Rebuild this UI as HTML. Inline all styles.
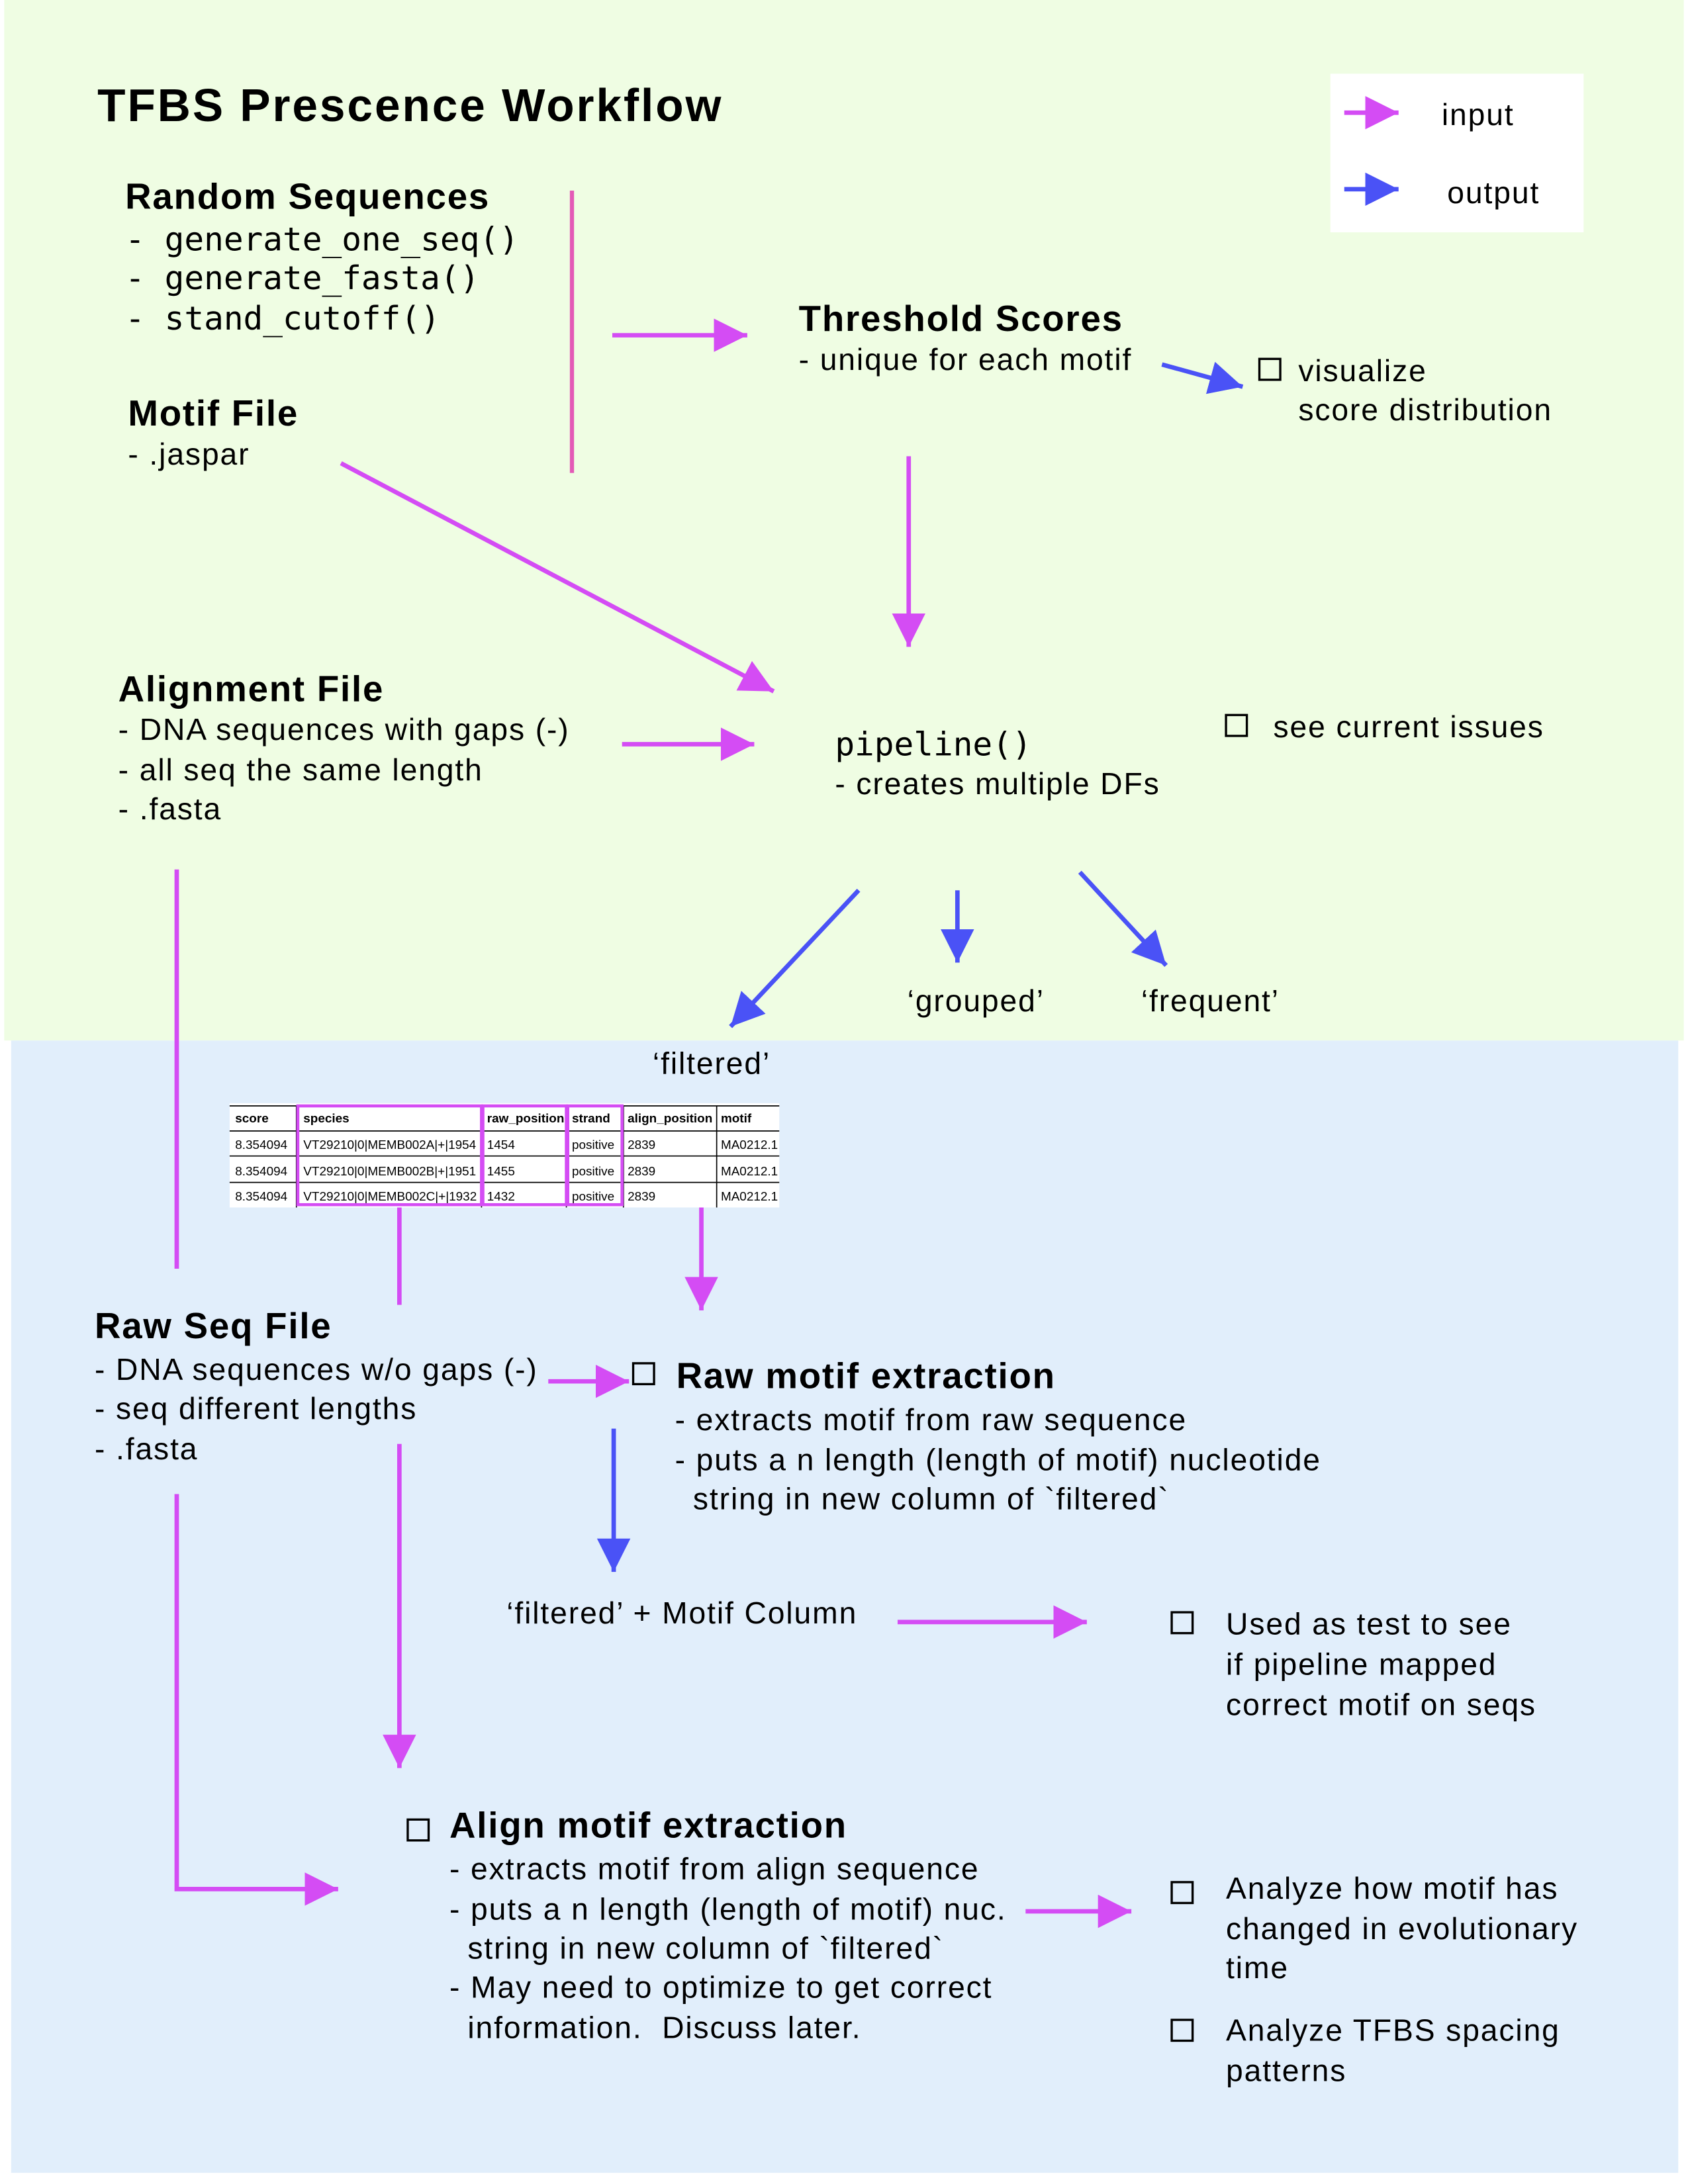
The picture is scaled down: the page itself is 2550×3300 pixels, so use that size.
<!DOCTYPE html>
<html><head><meta charset="utf-8"><style>
html,body{margin:0;padding:0;background:#fff;}
svg{display:block;}
text{font-family:"Liberation Sans",Arial,sans-serif;fill:#000;}
.h{font-weight:bold;font-size:26px;letter-spacing:0.85px;}
.b{font-size:22px;letter-spacing:0.9px;}
.m{font-family:"DejaVu Sans Mono","Liberation Mono",monospace;font-size:23.5px;}
.t{font-size:9px;}
.tb{font-size:9px;font-weight:bold;}
.mg{stroke:#d44cf4;stroke-width:3.2;fill:none;}
.bl{stroke:#4a52f6;stroke-width:3.2;fill:none;}
.cb{fill:none;stroke:#000;stroke-width:1.6;}
</style></head><body>
<svg width="2550" height="3300" viewBox="0 0 1213 1570" preserveAspectRatio="none" xmlns="http://www.w3.org/2000/svg">
<defs>
<marker id="am" markerUnits="userSpaceOnUse" markerWidth="26" markerHeight="26" refX="24" refY="12" orient="auto"><path d="M0,0 L24,12 L0,24 Z" fill="#d44cf4"/></marker>
<marker id="ab" markerUnits="userSpaceOnUse" markerWidth="26" markerHeight="26" refX="24" refY="12" orient="auto"><path d="M0,0 L24,12 L0,24 Z" fill="#4a52f6"/></marker>
</defs>
<rect x="0" y="0" width="1213" height="1570" fill="#ffffff"/>
<rect x="3" y="0" width="1207" height="748" fill="#effde3"/>
<rect x="8" y="748" width="1198" height="814" fill="#e1eefb"/>

<text x="70" y="87" style="font-weight:bold;font-size:33px;letter-spacing:1.4px">TFBS Prescence Workflow</text>

<g>
<rect x="956" y="53" width="182" height="114" fill="#ffffff"/>
<line x1="966" y1="81" x2="1005" y2="81" class="mg" marker-end="url(#am)"/>
<text x="1036" y="90" class="b">input</text>
<line x1="966" y1="136" x2="1005" y2="136" class="bl" marker-end="url(#ab)"/>
<text x="1040" y="146" class="b">output</text>
</g>

<g>
<text x="90" y="150" class="h">Random Sequences</text>
<text x="90" y="180" class="m" xml:space="preserve">- generate_one_seq()</text>
<text x="90" y="208" class="m" xml:space="preserve">- generate_fasta()</text>
<text x="90" y="237" class="m" xml:space="preserve">- stand_cutoff()</text>
</g>
<line x1="411" y1="137" x2="411" y2="340" stroke="#e35ab6" stroke-width="3"/>
<line x1="440" y1="241" x2="537" y2="241" class="mg" marker-end="url(#am)"/>

<g>
<text x="574" y="238" class="h">Threshold Scores</text>
<text x="574" y="266" class="b">- unique for each motif</text>
</g>
<line x1="835" y1="262" x2="893" y2="278" class="bl" marker-end="url(#ab)"/>
<rect x="905" y="258" width="15" height="15" class="cb"/>
<text x="933" y="274" class="b">visualize</text>
<text x="933" y="302" class="b">score distribution</text>

<g>
<text x="92" y="306" class="h">Motif File</text>
<text x="92" y="334" class="b">- .jaspar</text>
</g>
<line x1="245" y1="333" x2="556" y2="497" class="mg" marker-end="url(#am)"/>
<line x1="653" y1="328" x2="653" y2="465" class="mg" marker-end="url(#am)"/>

<g>
<text x="85" y="504" class="h">Alignment File</text>
<text x="85" y="532" class="b">- DNA sequences with gaps (-)</text>
<text x="85" y="561" class="b">- all seq the same length</text>
<text x="85" y="589" class="b">- .fasta</text>
</g>
<line x1="447" y1="535" x2="542" y2="535" class="mg" marker-end="url(#am)"/>

<g>
<text x="600" y="543" class="m">pipeline()</text>
<text x="600" y="571" class="b">- creates multiple DFs</text>
</g>
<rect x="881" y="514" width="15" height="15" class="cb"/>
<text x="915" y="530" class="b">see current issues</text>

<line x1="617" y1="640" x2="525" y2="738" class="bl" marker-end="url(#ab)"/>
<line x1="688" y1="640" x2="688" y2="692" class="bl" marker-end="url(#ab)"/>
<line x1="776" y1="627" x2="838" y2="694" class="bl" marker-end="url(#ab)"/>
<text x="652" y="727" class="b">‘grouped’</text>
<text x="820" y="727" class="b">‘frequent’</text>
<text x="469" y="772" class="b">‘filtered’</text>

<line x1="127" y1="625" x2="127" y2="912" class="mg"/>

<g>
<rect x="165" y="793" width="395" height="75" fill="#ffffff"/>
<g stroke="#000" stroke-width="0.8">
<line x1="165" y1="813" x2="560" y2="813"/><line x1="165" y1="831" x2="560" y2="831"/><line x1="165" y1="850" x2="560" y2="850"/>
<line x1="213" y1="795" x2="213" y2="868"/><line x1="346" y1="795" x2="346" y2="868"/><line x1="407" y1="795" x2="407" y2="868"/><line x1="448" y1="795" x2="448" y2="868"/><line x1="515" y1="795" x2="515" y2="868"/>
<line x1="165" y1="795" x2="560" y2="795"/>
</g>
<text x="169" y="807" class="tb">score</text><text x="218" y="807" class="tb">species</text><text x="350" y="807" class="tb">raw_position</text><text x="411" y="807" class="tb">strand</text><text x="451" y="807" class="tb">align_position</text><text x="518" y="807" class="tb">motif</text>
<text x="169" y="826" class="t">8.354094</text><text x="218" y="826" class="t">VT29210|0|MEMB002A|+|1954</text><text x="350" y="826" class="t">1454</text><text x="411" y="826" class="t">positive</text><text x="451" y="826" class="t">2839</text><text x="518" y="826" class="t">MA0212.1</text>
<text x="169" y="845" class="t">8.354094</text><text x="218" y="845" class="t">VT29210|0|MEMB002B|+|1951</text><text x="350" y="845" class="t">1455</text><text x="411" y="845" class="t">positive</text><text x="451" y="845" class="t">2839</text><text x="518" y="845" class="t">MA0212.1</text>
<text x="169" y="863" class="t">8.354094</text><text x="218" y="863" class="t">VT29210|0|MEMB002C|+|1932</text><text x="350" y="863" class="t">1432</text><text x="411" y="863" class="t">positive</text><text x="451" y="863" class="t">2839</text><text x="518" y="863" class="t">MA0212.1</text>
<g fill="none" stroke="#d44cf4" stroke-width="2.2">
<rect x="214" y="795" width="132" height="71"/><rect x="347" y="795" width="60" height="71"/><rect x="408" y="795" width="39" height="71"/>
</g>
</g>
<line x1="287" y1="868" x2="287" y2="938" class="mg"/>
<line x1="504" y1="868" x2="504" y2="942" class="mg" marker-end="url(#am)"/>

<g>
<text x="68" y="962" class="h">Raw Seq File</text>
<text x="68" y="992" class="b">- DNA sequences w/o gaps (-)</text>
<text x="68" y="1020" class="b">- seq different lengths</text>
<text x="68" y="1049" class="b">- .fasta</text>
</g>
<line x1="394" y1="993" x2="452" y2="993" class="mg" marker-end="url(#am)"/>

<rect x="455" y="980" width="15" height="15" class="cb"/>
<g>
<text x="486" y="998" class="h">Raw motif extraction</text>
<text x="485" y="1028" class="b">- extracts motif from raw sequence</text>
<text x="485" y="1057" class="b">- puts a n length (length of motif) nucleotide</text>
<text x="498" y="1085" class="b">string in new column of `filtered`</text>
</g>
<line x1="441" y1="1027" x2="441" y2="1130" class="bl" marker-end="url(#ab)"/>
<text x="364" y="1167" class="b">‘filtered’ + Motif Column</text>
<line x1="645" y1="1166" x2="781" y2="1166" class="mg" marker-end="url(#am)"/>
<rect x="842" y="1159" width="15" height="15" class="cb"/>
<g>
<text x="881" y="1175" class="b">Used as test to see</text>
<text x="881" y="1204" class="b">if pipeline mapped</text>
<text x="881" y="1233" class="b">correct motif on seqs</text>
</g>

<line x1="287" y1="1038" x2="287" y2="1271" class="mg" marker-end="url(#am)"/>
<polyline points="127,1074 127,1358 243,1358" class="mg" marker-end="url(#am)"/>

<rect x="293" y="1308" width="15" height="15" class="cb"/>
<g>
<text x="323" y="1321" class="h">Align motif extraction</text>
<text x="323" y="1351" class="b">- extracts motif from align sequence</text>
<text x="323" y="1380" class="b">- puts a n length (length of motif) nuc.</text>
<text x="336" y="1408" class="b">string in new column of `filtered`</text>
<text x="323" y="1436" class="b">- May need to optimize to get correct</text>
<text x="336" y="1465" class="b" xml:space="preserve">information.  Discuss later.</text>
</g>
<line x1="737" y1="1374" x2="813" y2="1374" class="mg" marker-end="url(#am)"/>
<rect x="842" y="1353" width="15" height="15" class="cb"/>
<g>
<text x="881" y="1365" class="b">Analyze how motif has</text>
<text x="881" y="1394" class="b">changed in evolutionary</text>
<text x="881" y="1422" class="b">time</text>
</g>
<rect x="842" y="1452" width="15" height="15" class="cb"/>
<g>
<text x="881" y="1467" class="b">Analyze TFBS spacing</text>
<text x="881" y="1496" class="b">patterns</text>
</g>
</svg>
</body></html>
